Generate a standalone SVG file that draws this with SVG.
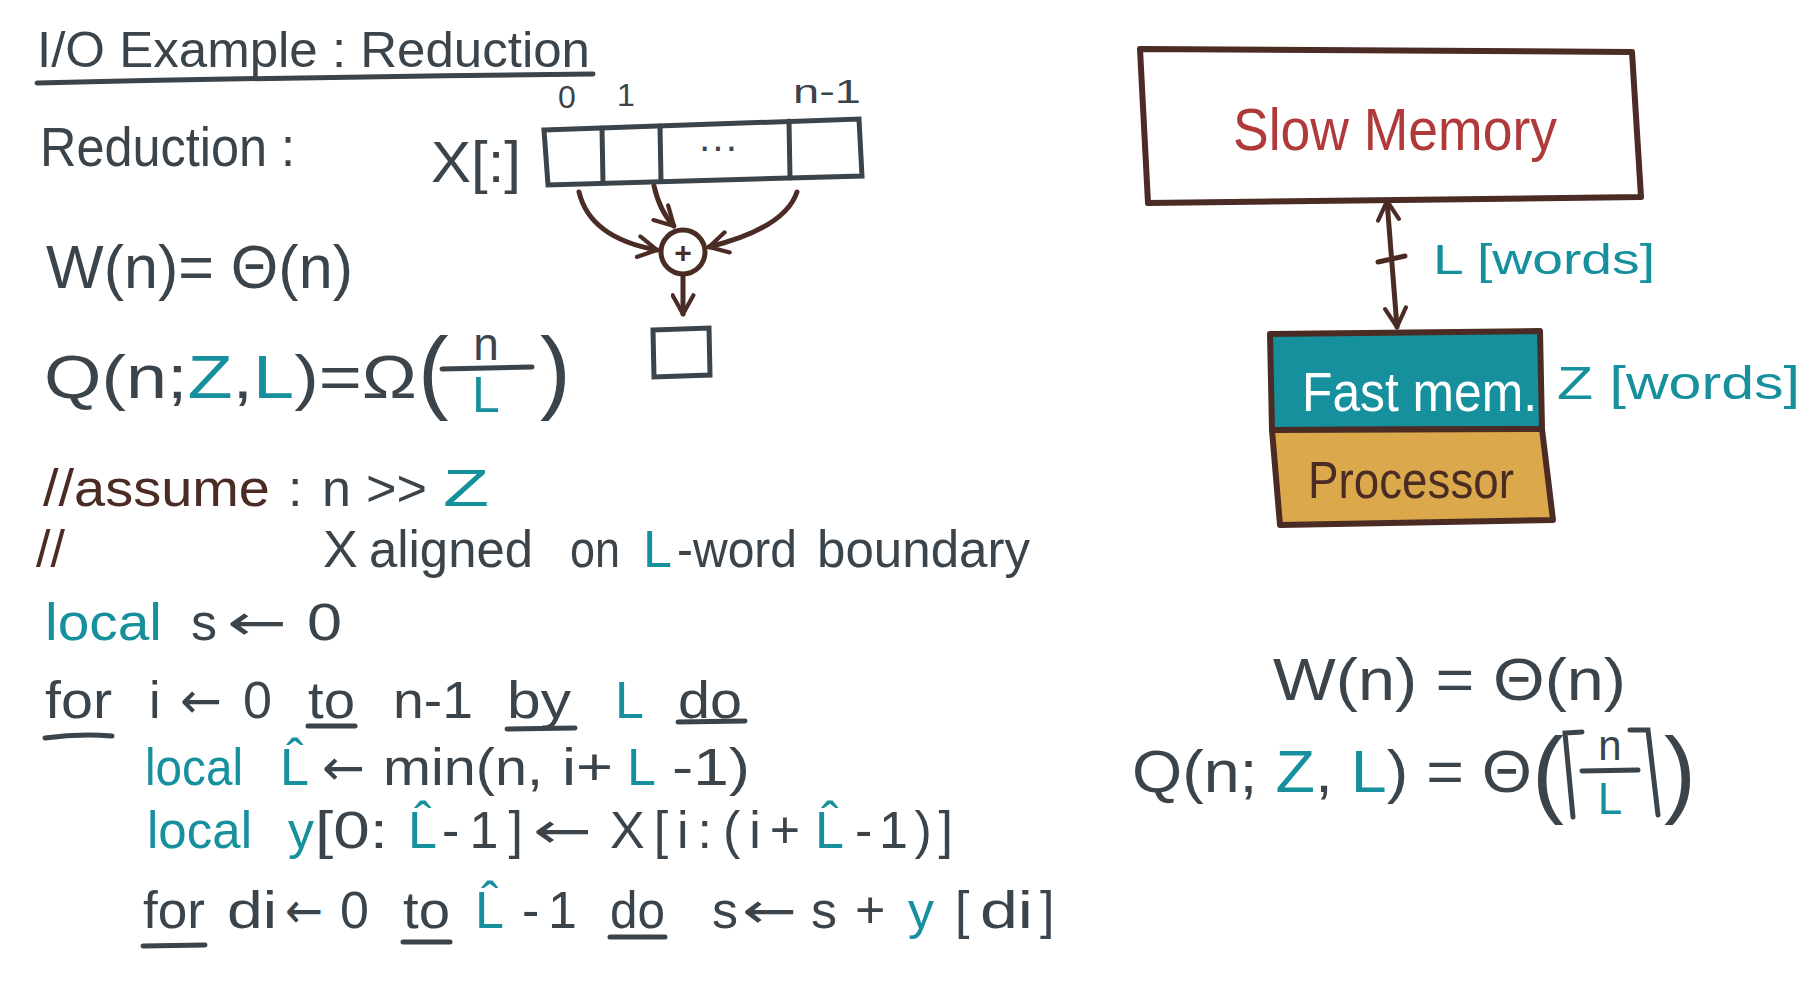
<svg xmlns="http://www.w3.org/2000/svg" width="1815" height="988" viewBox="0 0 1815 988">
<defs>
<style>
text{font-family:"Liberation Sans","DejaVu Sans",sans-serif;fill:#3b444b}
.t{fill:#17909e}.b{fill:#4b2c24}.r{fill:#b03a3a}.w{fill:#ffffff}
.c{font-size:52px}
.a{font-family:"DejaVu Sans",sans-serif;font-size:50px}
.ln{stroke:#3b444b;stroke-width:5;stroke-linecap:round;fill:none}
.br{stroke:#4b2c24;stroke-width:5;stroke-linecap:round;stroke-linejoin:round;fill:none}
</style>
<marker id="ah" viewBox="0 0 12 12" refX="10" refY="6" markerWidth="5" markerHeight="5" orient="auto-start-reverse" markerUnits="strokeWidth">
<path d="M1,1 L10,6 L1,11" fill="none" stroke="#4b2c24" stroke-width="2" stroke-linecap="round" stroke-linejoin="round"/>
</marker>
</defs>
<rect width="1815" height="988" fill="#ffffff"/>

<g id="title">
<text x="37" y="67" font-size="50" textLength="553" lengthAdjust="spacingAndGlyphs">I/O Example : Reduction</text>
<path class="ln" d="M37,83 Q300,77 593,74"/>
</g>

<g id="reduction-label">
<text x="40" y="166" font-size="56" textLength="255" lengthAdjust="spacingAndGlyphs">Reduction :</text>
</g>

<g id="array">
<text x="431" y="182" font-size="58" textLength="90" lengthAdjust="spacingAndGlyphs">X[:]</text>
<text x="558" y="108" font-size="32">0</text>
<text x="617" y="106" font-size="32">1</text>
<text x="793" y="103" font-size="34" textLength="68" lengthAdjust="spacingAndGlyphs">n-1</text>
<path class="ln" d="M544,130 L859,119 L862,176 L548,185 Z"/>
<path class="ln" d="M602,128 L603,183 M660,126 L661,181 M789,121 L790,178"/>
<text x="718" y="160" font-size="40" text-anchor="middle">···</text>
</g>

<g id="plus-node">
<circle cx="683" cy="252" r="22" class="br"/>
<text x="683" y="263" font-size="30" text-anchor="middle" class="b" font-weight="bold">+</text>
</g>

<g id="result-node">
<path class="ln" d="M653,330 L709,328 L710,375 L654,377 Z"/>
</g>

<g id="connectors">
<path class="br" d="M579,192 Q590,238 657,250" marker-end="url(#ah)"/>
<path class="br" d="M654,186 Q660,212 674,226" marker-end="url(#ah)"/>
<path class="br" d="M797,192 Q785,228 709,247" marker-end="url(#ah)"/>
<path class="br" d="M683,276 L683,314" marker-end="url(#ah)"/>
<path class="br" d="M1387,201 L1397,327" marker-start="url(#ah)" marker-end="url(#ah)"/>
<path class="br" d="M1378,262 L1405,256"/>
</g>

<g id="work-left">
<text x="46" y="288" font-size="62" textLength="307" lengthAdjust="spacingAndGlyphs">W(n)= Θ(n)</text>
</g>

<g id="io-left">
<text x="44" y="398" font-size="62" textLength="373" lengthAdjust="spacingAndGlyphs">Q(n;<tspan class="t">Z</tspan>,<tspan class="t">L</tspan>)=Ω</text>
<text x="418" y="402" font-size="92">(</text>
<text x="486" y="360" font-size="46" text-anchor="middle">n</text>
<path class="ln" d="M442,369 L532,367"/>
<text x="486" y="412" font-size="50" text-anchor="middle" class="t">L</text>
<text x="540" y="402" font-size="92">)</text>
</g>

<g id="assume">
<text x="43" y="506" class="c b" textLength="227" lengthAdjust="spacingAndGlyphs">//assume</text>
<text x="288" y="506" class="c">:</text>
<text x="322" y="506" class="c">n</text>
<text x="366" y="506" class="c" textLength="61" lengthAdjust="spacingAndGlyphs">&gt;&gt;</text>
<text x="443" y="506" class="c t" textLength="46" lengthAdjust="spacingAndGlyphs">Z</text>
<text x="36" y="567" class="c b">//</text>
<text x="323" y="567" class="c">X</text>
<text x="369" y="567" class="c" textLength="164" lengthAdjust="spacingAndGlyphs">aligned</text>
<text x="570" y="567" class="c" textLength="50" lengthAdjust="spacingAndGlyphs">on</text>
<text x="643" y="567" class="c t">L</text>
<text x="677" y="567" class="c" textLength="120" lengthAdjust="spacingAndGlyphs">-word</text>
<text x="817" y="567" class="c" textLength="213" lengthAdjust="spacingAndGlyphs">boundary</text>
</g>

<g id="code">
<text x="45" y="640" class="c t" textLength="117" lengthAdjust="spacingAndGlyphs">local</text>
<text x="191" y="640" class="c">s</text>
<text x="227" y="640" class="a" textLength="60" lengthAdjust="spacingAndGlyphs">←</text>
<text x="307" y="640" class="c" textLength="35" lengthAdjust="spacingAndGlyphs">0</text>

<text x="45" y="718" class="c" textLength="67" lengthAdjust="spacingAndGlyphs">for</text>
<text x="149" y="718" class="c">i</text>
<text x="180" y="718" class="a" textLength="42" lengthAdjust="spacingAndGlyphs">←</text>
<text x="243" y="718" class="c">0</text>
<text x="308" y="718" class="c" textLength="47" lengthAdjust="spacingAndGlyphs">to</text>
<text x="393" y="718" class="c" textLength="80" lengthAdjust="spacingAndGlyphs">n-1</text>
<text x="507" y="718" class="c" textLength="64" lengthAdjust="spacingAndGlyphs">by</text>
<text x="615" y="718" class="c t">L</text>
<text x="678" y="718" class="c" textLength="64" lengthAdjust="spacingAndGlyphs">do</text>
<path class="ln" d="M45,738 Q80,733 112,736 M308,726 L355,726 M507,729 L575,728 M678,722 L745,721"/>

<text x="145" y="785" class="c t" textLength="98" lengthAdjust="spacingAndGlyphs">local</text>
<text x="280" y="785" class="c t">L̂</text>
<text x="322" y="785" class="a" textLength="43" lengthAdjust="spacingAndGlyphs">←</text>
<text x="383" y="785" class="c" textLength="160" lengthAdjust="spacingAndGlyphs">min(n,</text>
<text x="562" y="785" class="c" textLength="51" lengthAdjust="spacingAndGlyphs">i+</text>
<text x="627" y="785" class="c t">L</text>
<text x="672" y="785" class="c" textLength="78" lengthAdjust="spacingAndGlyphs">-1)</text>

<text x="147" y="848" class="c t" textLength="105" lengthAdjust="spacingAndGlyphs">local</text>
<text x="288" y="848" class="c t">y</text>
<text x="315" y="848" class="c" textLength="73" lengthAdjust="spacingAndGlyphs">[0:</text>
<text x="408" y="848" class="c t">L̂</text>
<text x="442" y="848" class="c" textLength="81">-1]</text>
<text x="533" y="848" class="a" textLength="59" lengthAdjust="spacingAndGlyphs">←</text>
<text x="610" y="848" class="c" textLength="102">X[i:</text>
<text x="723" y="848" class="c" textLength="77">(i+</text>
<text x="815" y="848" class="c t">L̂</text>
<text x="855" y="848" class="c" textLength="98">-1)]</text>

<text x="143" y="928" class="c" textLength="62" lengthAdjust="spacingAndGlyphs">for</text>
<text x="227" y="928" class="c" textLength="50" lengthAdjust="spacingAndGlyphs">di</text>
<text x="285" y="928" class="a" textLength="38" lengthAdjust="spacingAndGlyphs">←</text>
<text x="340" y="928" class="c">0</text>
<text x="403" y="928" class="c" textLength="47" lengthAdjust="spacingAndGlyphs">to</text>
<text x="475" y="928" class="c t">L̂</text>
<text x="522" y="928" class="c" textLength="55">-1</text>
<text x="610" y="928" class="c" textLength="55" lengthAdjust="spacingAndGlyphs">do</text>
<text x="712" y="928" class="c">s</text>
<text x="742" y="928" class="a" textLength="55" lengthAdjust="spacingAndGlyphs">←</text>
<text x="811" y="928" class="c">s</text>
<text x="855" y="928" class="c">+</text>
<text x="908" y="928" class="c t">y</text>
<text x="955" y="928" class="c">[</text>
<text x="980" y="928" class="c" textLength="53" lengthAdjust="spacingAndGlyphs">di</text>
<text x="1040" y="928" class="c">]</text>
<path class="ln" d="M143,946 L205,945 M403,942 L450,942 M610,937 L665,937"/>
</g>

<g id="slow-memory">
<path d="M1140,49 L1632,52 L1641,197 L1148,203 Z" fill="#ffffff" stroke="#4b2c24" stroke-width="6" stroke-linejoin="round"/>
<text x="1395" y="150" font-size="60" class="r" text-anchor="middle" textLength="324" lengthAdjust="spacingAndGlyphs">Slow Memory</text>
</g>

<g id="line-size">
<text x="1433" y="274" font-size="42" class="t" textLength="222" lengthAdjust="spacingAndGlyphs">L [words]</text>
</g>

<g id="fast-mem">
<path d="M1270,334 L1540,331 L1542,429 L1272,430 Z" fill="#17909e" stroke="#4b2c24" stroke-width="6" stroke-linejoin="round"/>
<text x="1302" y="411" font-size="56" class="w" textLength="235" lengthAdjust="spacingAndGlyphs">Fast mem.</text>
</g>

<g id="fast-size">
<text x="1557" y="399" font-size="46" class="t" textLength="243" lengthAdjust="spacingAndGlyphs">Z  [words]</text>
</g>

<g id="processor">
<path d="M1272,430 L1542,429 L1553,520 L1280,525 Z" fill="#dba84c" stroke="#4b2c24" stroke-width="6" stroke-linejoin="round"/>
<text x="1308" y="498" font-size="52" class="b" textLength="206" lengthAdjust="spacingAndGlyphs">Processor</text>
</g>

<g id="work-right">
<text x="1273" y="700" font-size="60" textLength="353" lengthAdjust="spacingAndGlyphs">W(n) = Θ(n)</text>
</g>

<g id="io-right">
<text x="1132" y="792" font-size="60" textLength="400" lengthAdjust="spacingAndGlyphs">Q(n; <tspan class="t">Z</tspan>, <tspan class="t">L</tspan>) = Θ</text>
<text x="1532" y="805" font-size="96">(</text>
<path class="ln" d="M1573,817 L1565,733 L1582,732 M1630,730 L1648,730 L1658,815"/>
<text x="1610" y="760" font-size="42" text-anchor="middle">n</text>
<path class="ln" d="M1582,771 L1638,770"/>
<text x="1610" y="814" font-size="44" text-anchor="middle" class="t">L</text>
<text x="1664" y="805" font-size="96">)</text>
</g>
</svg>
